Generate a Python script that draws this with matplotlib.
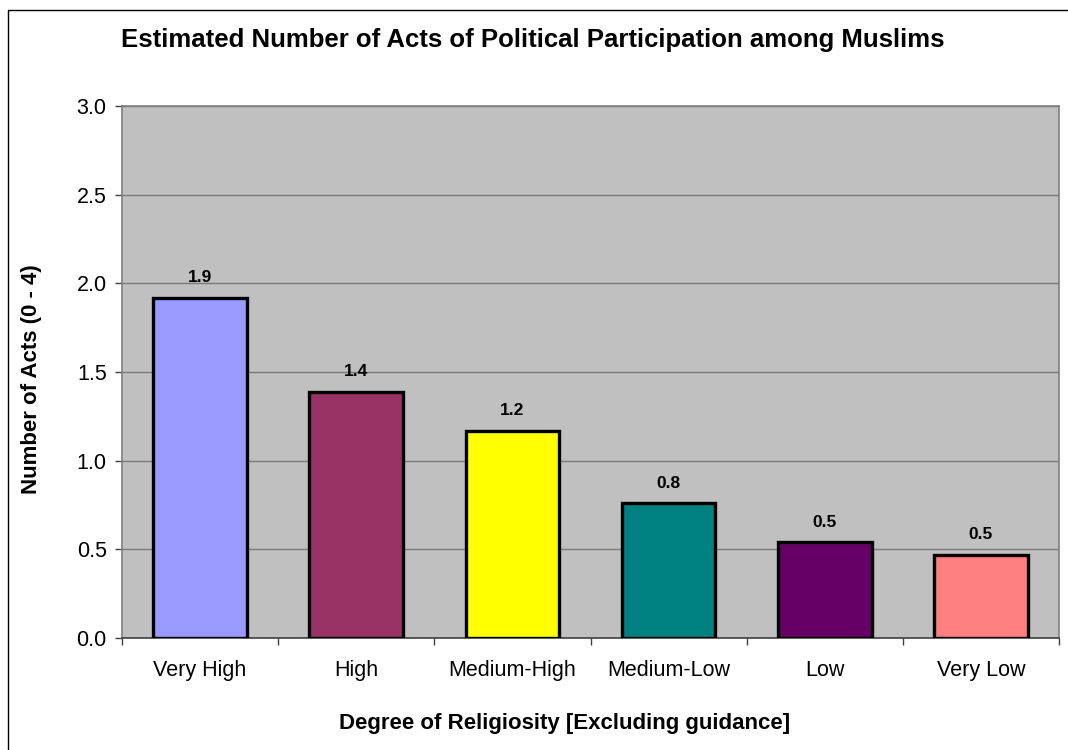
import matplotlib
matplotlib.use("Agg")
import matplotlib.pyplot as plt
from matplotlib.patches import Rectangle
import numpy as np

plt.rcParams['font.family'] = ['Liberation Sans', 'DejaVu Sans']

categories = ["Very High", "High", "Medium-High", "Medium-Low", "Low", "Very Low"]
acts = [1.92, 1.39, 1.17, 0.76, 0.54, 0.47]
bar_colors = ["#9999FF", "#993366", "#FFFF00", "#008080", "#660066", "#FF8080"]
y_ticks = [0.0, 0.5, 1.0, 1.5, 2.0, 2.5, 3.0]

W, H = 1068, 750
fig = plt.figure(figsize=(W / 100, H / 100), dpi=100)
fig.patch.set_facecolor("white")

# chart area frame
fig.patches.append(Rectangle((8 / W, -0.1), 1.2, 1 - 10 / H + 0.1,
                             transform=fig.transFigure, fill=False,
                             edgecolor="black", linewidth=1.0))

left, right, top, bottom = 122, 1059, 106, 638
ax = fig.add_axes([left / W, 1 - bottom / H, (right - left) / W, (bottom - top) / H])
ax.set_facecolor("#C0C0C0")

x = np.arange(len(categories))
ax.bar(x, acts, width=0.6, color=bar_colors, edgecolor="black",
       linewidth=2.4, zorder=3)

for xi, v in zip(x, acts):
    ax.annotate(f"{v:.1f}", (xi, v), xytext=(0, 9), textcoords="offset points",
                ha="center", va="bottom", fontsize=12.5, fontweight="bold",
                zorder=4)

ax.set_xlim(-0.5, len(categories) - 0.5)
ax.set_ylim(0, 3.0)
ax.set_yticks(y_ticks)
ax.set_yticklabels([f"{t:.1f}" for t in y_ticks], fontsize=15.5)
ax.yaxis.grid(True, color="#7a7a7a", linewidth=1.0, zorder=1)
ax.set_axisbelow(True)

ax.set_xticks(x)
ax.set_xticklabels(categories, fontsize=15.5)
ax.set_xticks(np.arange(-0.5, len(categories)), minor=True)
ax.tick_params(axis="x", which="major", length=0, pad=16)
ax.tick_params(axis="x", which="minor", length=5, width=1, color="#404040",
               direction="out")
ax.tick_params(axis="y", length=5, width=1, color="#404040", pad=6)

for s in ["left", "top", "right"]:
    ax.spines[s].set_color("#808080")
    ax.spines[s].set_linewidth(1.2)
ax.spines["bottom"].set_color("#404040")
ax.spines["bottom"].set_linewidth(1.2)

fig.text(533 / W, 1 - 40 / H,
         "Estimated Number of Acts of Political Participation among Muslims",
         ha="center", va="center", fontsize=18.5, fontweight="bold")
fig.text(565 / W, 1 - 723 / H, "Degree of Religiosity [Excluding guidance]",
         ha="center", va="center", fontsize=16, fontweight="bold")
fig.text(32 / W, 1 - 379 / H, "Number of Acts (0 - 4)", rotation=90,
         ha="center", va="center", fontsize=16, fontweight="bold")

fig.savefig("out.png", dpi=100)
